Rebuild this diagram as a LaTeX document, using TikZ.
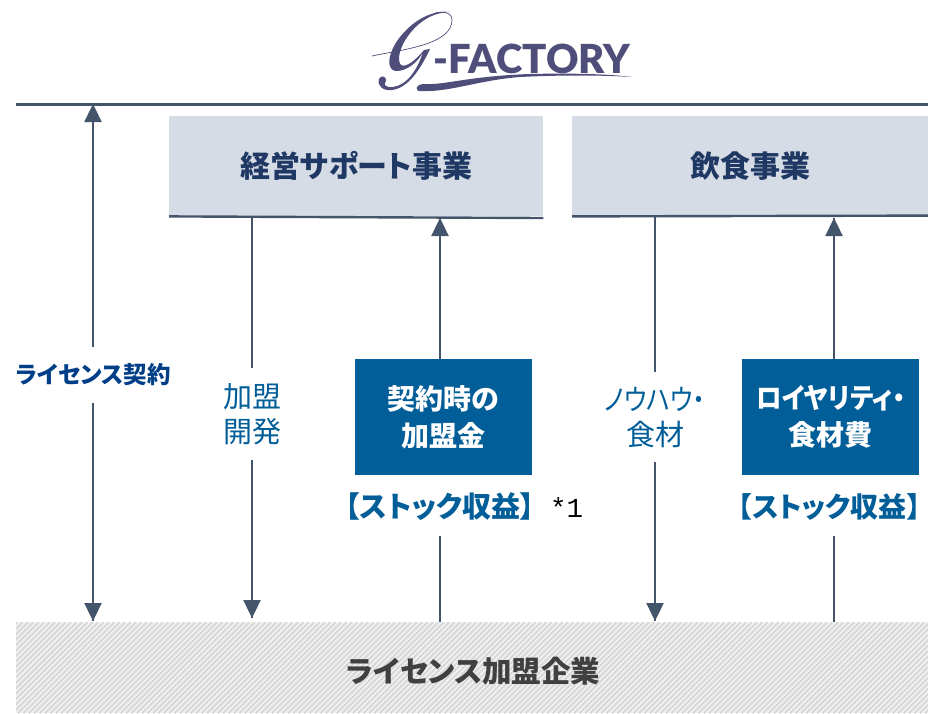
\documentclass[tikz,border=0pt]{standalone}
\usepackage{fontspec}
\usepackage{graphicx}
\newfontfamily\cjk[RawFeature=+palt]{Noto Sans CJK JP}
\newfontfamily\logofont{Lato Black}
\newfontfamily\plain{Liberation Mono}
\definecolor{arrowc}{HTML}{44546A}
\definecolor{panel}{HTML}{D6DCE5}
\definecolor{navy}{HTML}{1F3864}
\definecolor{blue1}{HTML}{025E98}
\definecolor{blue2}{HTML}{003F87}
\definecolor{logoc}{HTML}{4F4D7A}
\definecolor{hatchbg}{HTML}{F5F5F5}
\definecolor{hatchfg}{HTML}{D9D9D9}
\definecolor{bandtext}{HTML}{404040}
\tikzset{
  x=1pt,y=-1pt,
  txt/.style={inner sep=0pt,outer sep=0pt,font=\cjk,align=center},
  panelbox/.style={fill=panel,draw=none,inner sep=0pt,minimum height=100pt,anchor=north west},
  headtext/.style={txt,text=navy,font=\cjk\bfseries\fontsize{30}{34}\selectfont},
  paybox/.style={fill=blue1,inner sep=0pt,minimum width=177pt,minimum height=116pt,anchor=north west},
  paytext/.style={txt,text=white,font=\cjk\bfseries\fontsize{28}{37}\selectfont},
  stock/.style={txt,text=blue1,font=\cjk\bfseries\fontsize{29}{32}\selectfont},
  flowtext/.style={txt,text=blue1,font=\cjk\fontsize{29}{35}\selectfont},
  conn/.style={draw=arrowc,line width=1.5pt},
  rule/.style={draw=arrowc,line width=3pt},
  tip/.style={fill=arrowc,draw=none},
  band/.style={inner sep=0pt,minimum width=912pt,minimum height=91pt,anchor=north west,fill=hatchbg,
    path picture={
      \foreach \i in {-600,-594.6,...,520}{
        \draw[hatchfg,line width=2.2pt] (\i,45.5) -- (\i+91,-45.5);
      }}},
}
\newcommand{\arrowup}[1]{\fill[tip] (#1) -- ++(-8.8,18) -- ++(17.6,0) -- cycle;}
\newcommand{\arrowdown}[1]{\fill[tip] (#1) -- ++(-8.8,-18) -- ++(17.6,0) -- cycle;}
\begin{document}
\begin{tikzpicture}
\useasboundingbox (0,0) rectangle (928,713);
% logo
\node[txt,text=logoc,anchor=base west,font=\logofont\fontsize{40}{40}\selectfont] (logo) at (433.5,73) {-FACTORY};
\fill[logoc] (423,91) .. controls (413,93) and (415,83) .. (426,84) .. controls (445,85) and (470,76) .. (530,74) .. controls (570,73) and (610,74) .. (632,77) .. controls (600,75) and (560,75) .. (520,77) .. controls (480,80) and (450,92) .. (423,91) -- cycle;
\draw[logoc,line width=0.7pt] (372,56) .. controls (400,50) and (440,46) .. (450,28) .. controls (456,15) and (448,10) .. (435,13);
% G body
\fill[logoc] (450,12) .. controls (425,9) and (402,30) .. (393,48)
  .. controls (387,60) and (388,72) .. (398,71)
  .. controls (408,70) and (418,62) .. (423,52)
  .. controls (418,68) and (408,85) .. (393,87)
  .. controls (385,88) and (383,84) .. (386,81)
  .. controls (387,77) and (381,74) .. (379,79)
  .. controls (377,86) and (383,91) .. (392,90)
  .. controls (408,88) and (420,70) .. (430,49)
  -- (424,50)
  .. controls (416,60) and (406,68) .. (401,65)
  .. controls (396,60) and (401,45) .. (408,36)
  .. controls (418,22) and (433,12) .. (450,12) -- cycle;
% rule and panels
\coordinate (ruleL) at (16,104);
\coordinate (ruleR) at (928,104);
\draw[rule] (ruleL) -- (ruleR);
\node[panelbox,minimum width=374pt] (mgmt) at (169,116) {};
\node[panelbox,minimum width=356pt] (food) at (572,116) {};
\draw[rule,line width=2.4pt] (mgmt.south west) -- ([yshift=-1.6]mgmt.south east);
\draw[rule,line width=2.4pt] (food.south west) -- ([yshift=0.8]food.south east);
\node[headtext] at (mgmt.center) {経営サポート事業};
\node[headtext] at (food.center) {飲食事業};
% band
\node[band] (bandnode) at (16,622) {};
\node[txt,text=bandtext,font=\cjk\bfseries\fontsize{29.5}{34}\selectfont] at (473.5,671) {ライセンス加盟企業};
% pay boxes
\node[paybox] (pay1) at (355,359) {};
\node[paybox] (pay2) at (742,359) {};
\node[paytext] at (pay1.center) {契約時の\\加盟金};
\node[paytext] at (pay2.center) {\scalebox{0.91}[1]{ロイヤリティ・}\\食材費};
% labels
\node[txt,text=blue2,font=\cjk\bfseries\fontsize{23.5}{28}\selectfont] (lic) at (93,375) {ライセンス契約};
\node[flowtext] (dev) at (252,414) {加盟\\開発};
\node[flowtext] (know) at (655,418) {\scalebox{0.86}[1]{ノウハウ・}\\食材};
\node[stock] (st1) at (440,507) {【ストック収益】};
\node[stock,font=\cjk\bfseries\fontsize{28}{32}\selectfont] (st2) at (829.5,507) {【ストック収益】};
\node[txt,text=black,anchor=west,font=\plain\fontsize{27.5}{30}\selectfont] at (550,508) {*1};
% connectors
\coordinate (a1t) at (93,104); \coordinate (a1b) at (93,621);
\coordinate (lg1) at (93,347); \coordinate (lg2) at (93,403);
\draw[conn] (a1t) -- (lg1); \draw[conn] (lg2) -- (a1b);
\arrowup{a1t} \arrowdown{a1b}
\coordinate (a2t) at (252,216); \coordinate (a2b) at (252,618);
\coordinate (dg1) at (252,368); \coordinate (dg2) at (252,460);
\draw[conn] (a2t) -- (dg1); \draw[conn] (dg2) -- (a2b);
\arrowdown{a2b}
\coordinate (a3t) at (440,218); \coordinate (a3m) at (440,359); \coordinate (a3l) at (440,536); \coordinate (a3b) at (440,622);
\draw[conn] (a3m) -- (a3t); \draw[conn] (a3b) -- (a3l);
\arrowup{a3t}
\coordinate (a4t) at (655,216); \coordinate (a4b) at (655,621);
\coordinate (kg1) at (655,372); \coordinate (kg2) at (655,462);
\draw[conn] (a4t) -- (kg1); \draw[conn] (kg2) -- (a4b);
\arrowdown{a4b}
\coordinate (a5t) at (834,218); \coordinate (a5m) at (834,359); \coordinate (a5l) at (834,536); \coordinate (a5b) at (834,622);
\draw[conn] (a5m) -- (a5t); \draw[conn] (a5b) -- (a5l);
\arrowup{a5t}
\end{tikzpicture}
\end{document}
